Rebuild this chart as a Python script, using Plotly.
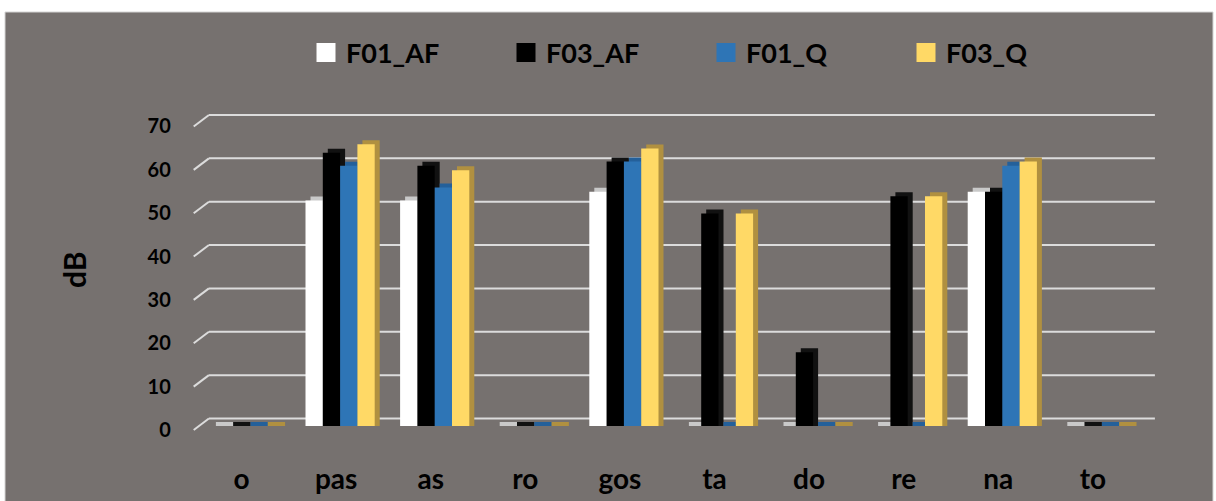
import plotly.graph_objects as go

# syllables on the x axis
categories = ["o", "pas", "as", "ro", "gos", "ta", "do", "re", "na", "to"]

# intensity in dB per speaker / condition
f01_af = [0, 52, 52, 0, 54, 0, 0, 0, 54, 0]
f03_af = [0, 63, 60, 0, 61, 49, 17, 53, 54, 0]
f01_q = [0, 60, 55, 0, 61, 0, 0, 0, 60, 0]
f03_q = [0, 65, 59, 0, 64, 49, 0, 53, 61, 0]

series_names = ["F01_AF", "F03_AF", "F01_Q", "F03_Q"]
series_values = [f01_af, f03_af, f01_q, f03_q]
face_colors = ["#ffffff", "#000000", "#2e75b6", "#ffd966"]
side_colors = ["#c9c9c9", "#111111", "#24609a", "#b09040"]

y_ticks = [0, 10, 20, 30, 40, 50, 60, 70]

W, H = 1216, 501
BG = "#76716f"
GRID = "#dcdcdc"

# pixel geometry of the bar plane
px_per_unit = 4.336          # vertical pixels per dB
cat_step = 94.6              # horizontal pixels per category
x_range = [-0.6, 9.7]
y_range = [-2, 73]
x0_px = 245.5 + x_range[0] * cat_step
x1_px = 245.5 + x_range[1] * cat_step
yb_px = 426 - y_range[0] * px_per_unit
yt_px = 426 - y_range[1] * px_per_unit

# pseudo-3D offsets (in axis units)
bar_w = 17.3 / cat_step
depth_dx = 5 / cat_step
depth_dy = 4 / px_per_unit
back_dx = 10.7 / cat_step
back_dy = 7.5 / px_per_unit
front_dx = -4.5 / cat_step
front_dy = -4 / px_per_unit

fig = go.Figure()

for k, (name, vals) in enumerate(zip(series_names, series_values)):
    off = bar_w * (k - 2)
    # side / top face
    fig.add_trace(go.Bar(
        x=categories, y=[v + depth_dy for v in vals], base=0,
        offset=off + depth_dx, width=bar_w,
        marker=dict(color=side_colors[k], line=dict(width=0)),
        showlegend=False, hoverinfo="skip",
    ))
    # front face
    fig.add_trace(go.Bar(
        x=categories, y=vals, offset=off, width=bar_w, name=name,
        marker=dict(color=face_colors[k], line=dict(width=0)),
        showlegend=False,
    ))

# legend swatches
for name, col in zip(series_names, face_colors):
    fig.add_trace(go.Scatter(
        x=[None], y=[None], mode="markers", name=name,
        marker=dict(symbol="square", size=16, color=col,
                    line=dict(width=3, color=col)),
    ))

shapes = [
    dict(type="rect", xref="paper", yref="paper",
         x0=5 / W, x1=1213 / W, y0=-0.01, y1=1 - 12 / H,
         fillcolor=BG, line=dict(color="#d4d4d4", width=1), layer="below"),
]
# back-wall gridlines with their slanted left ends
for v in y_ticks:
    shapes.append(dict(
        type="line", xref="x", yref="y", layer="below",
        x0=-0.5 + back_dx, x1=9.5 + back_dx,
        y0=v + back_dy, y1=v + back_dy,
        line=dict(color=GRID, width=2)))
    shapes.append(dict(
        type="line", xref="x", yref="y", layer="below",
        x0=-0.5 + front_dx, x1=-0.5 + back_dx,
        y0=v + front_dy, y1=v + back_dy,
        line=dict(color=GRID, width=2)))

fig.update_layout(
    width=W, height=H,
    margin=dict(l=0, r=0, t=0, b=0),
    paper_bgcolor="white",
    plot_bgcolor="rgba(0,0,0,0)",
    barmode="overlay",
    shapes=shapes,
    font=dict(family="Lato", color="black"),
    legend=dict(
        orientation="h", x=306 / W, xanchor="left",
        y=1 - 53 / H, yanchor="middle",
        bgcolor="rgba(0,0,0,0)",
        font=dict(family="Lato", size=27, weight="bold", color="black"),
        entrywidth=155, entrywidthmode="pixels",
    ),
    xaxis=dict(
        domain=[x0_px / W, x1_px / W], range=x_range, automargin=False,
        type="category", categoryorder="array", categoryarray=categories,
        showgrid=False, zeroline=False, showline=False, ticks="",
        tickfont=dict(family="Lato", size=28, weight="bold", color="black"),
        ticklabelshift=-4, ticklabelstandoff=25,
    ),
    yaxis=dict(
        domain=[1 - yb_px / H, 1 - yt_px / H], range=y_range,
        automargin=False,
        tickvals=y_ticks, showgrid=False, zeroline=False, showline=False,
        ticks="",
        tickfont=dict(family="Lato", size=20, weight="bold", color="black"),
        ticklabelshift=4, ticklabelstandoff=17,
    ),
    annotations=[dict(
        text="dB", xref="paper", yref="paper", x=74 / W, y=1 - 270 / H,
        xanchor="center", yanchor="middle",
        showarrow=False, textangle=-90,
        font=dict(family="Lato", size=30, weight="bold", color="black"),
    )],
)

fig.write_html("out.html")
